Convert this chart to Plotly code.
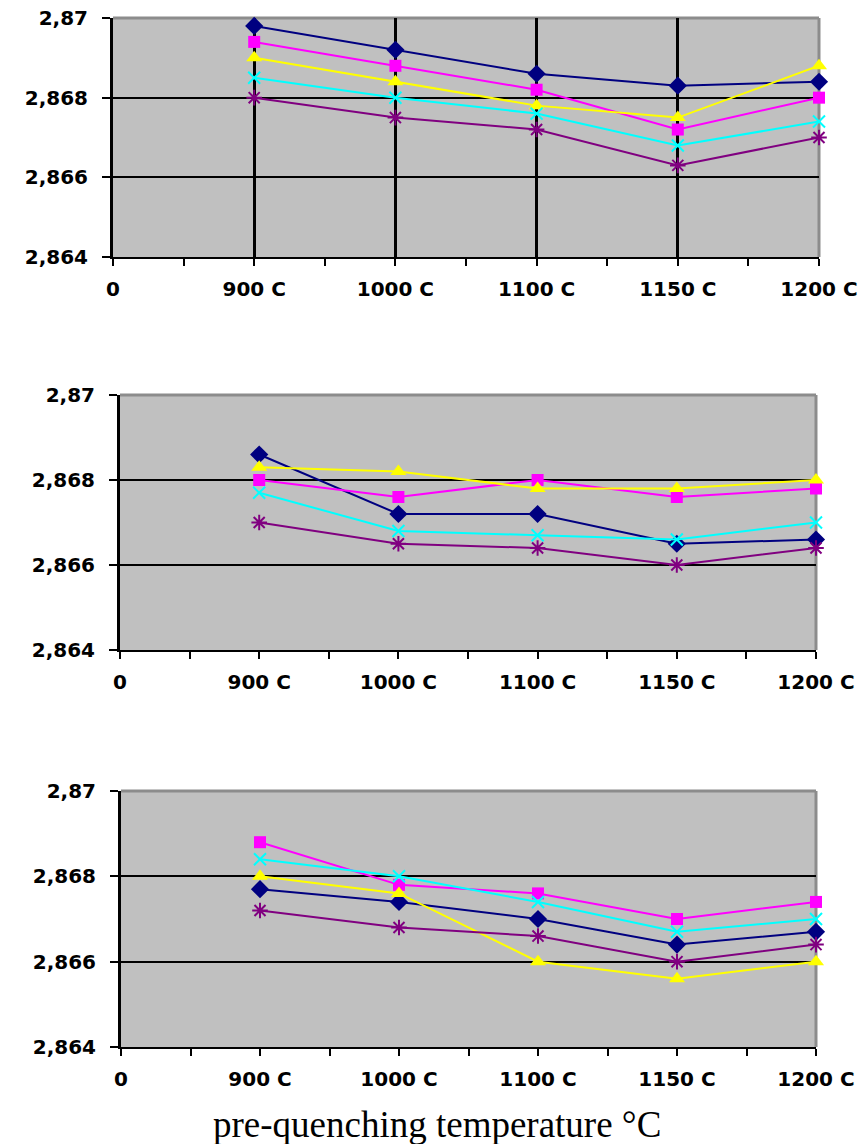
import plotly.graph_objects as go

# ---------------- data ----------------
categories = ["0", "900 C", "1000 C", "1100 C", "1150 C", "1200 C"]
y_tickvals = [2.864, 2.866, 2.868, 2.870]
y_ticktext = ["2,864", "2,866", "2,868", "2,87"]
x_label = "pre-quenching temperature °C"

series_names = ["series 1", "series 2", "series 3", "series 4", "series 5"]

# panel 1 (top)
p1_navy = [2.8698, 2.8692, 2.8686, 2.8683, 2.8684]
p1_magenta = [2.8694, 2.8688, 2.8682, 2.8672, 2.8680]
p1_yellow = [2.8690, 2.8684, 2.8678, 2.8675, 2.8688]
p1_cyan = [2.8685, 2.8680, 2.8676, 2.8668, 2.8674]
p1_purple = [2.8680, 2.8675, 2.8672, 2.8663, 2.8670]

# panel 2 (middle)
p2_navy = [2.8686, 2.8672, 2.8672, 2.8665, 2.8666]
p2_magenta = [2.8680, 2.8676, 2.8680, 2.8676, 2.8678]
p2_yellow = [2.8683, 2.8682, 2.8678, 2.8678, 2.8680]
p2_cyan = [2.8677, 2.8668, 2.8667, 2.8666, 2.8670]
p2_purple = [2.8670, 2.8665, 2.8664, 2.8660, 2.8664]

# panel 3 (bottom)
p3_navy = [2.8677, 2.8674, 2.8670, 2.8664, 2.8667]
p3_magenta = [2.8688, 2.8678, 2.8676, 2.8670, 2.8674]
p3_yellow = [2.8680, 2.8676, 2.8660, 2.8656, 2.8660]
p3_cyan = [2.8684, 2.8680, 2.8674, 2.8667, 2.8670]
p3_purple = [2.8672, 2.8668, 2.8666, 2.8660, 2.8664]

panels = [
    [p1_navy, p1_magenta, p1_yellow, p1_cyan, p1_purple],
    [p2_navy, p2_magenta, p2_yellow, p2_cyan, p2_purple],
    [p3_navy, p3_magenta, p3_yellow, p3_cyan, p3_purple],
]

# ---------------- styles ----------------
W, H = 867, 1144
colors = ["#000080", "#FF00FF", "#FFFF00", "#00FFFF", "#800080"]
symbols = ["diamond", "square", "triangle-up", "x-thin-open", "asterisk-open"]
sizes = [14, 12, 14, 12, 13]

# pixel boxes of each plot area: (left, right, top, bottom)
boxes = [(113, 819, 18, 257), (120, 816, 395, 650), (121, 816, 791, 1047)]
vgrid = [True, False, False]


def px_x(p):
    return p / W


def px_y(p):
    return 1 - p / H


x_pos = list(range(len(categories)))
data_x = x_pos[1:]

fig = go.Figure()
tick_font = dict(family="DejaVu Sans", size=20, color="black", weight="bold")

for i, (series_list, box) in enumerate(zip(panels, boxes)):
    sfx = "" if i == 0 else str(i + 1)
    xa, ya = "x" + sfx, "y" + sfx
    for j, vals in enumerate(series_list):
        open_sym = symbols[j].endswith("open")
        marker = dict(symbol=symbols[j], size=sizes[j], color=colors[j],
                      line=dict(color=colors[j], width=2 if open_sym else 0))
        fig.add_trace(go.Scatter(
            x=data_x, y=vals, mode="lines+markers", name=series_names[j],
            line=dict(color=colors[j], width=2), marker=marker,
            xaxis=xa, yaxis=ya, showlegend=False, cliponaxis=False))
    l, r, t, b = box
    fig.layout["xaxis" + sfx] = dict(
        domain=[px_x(l), px_x(r)], anchor=ya, range=[0, len(categories) - 1],
        tickvals=x_pos, ticktext=categories, tickfont=tick_font,
        showline=True, linecolor="black", linewidth=2,
        ticks="outside", ticklen=7, tickwidth=2, tickcolor="black",
        ticklabelstandoff=6, automargin=False,
        minor=dict(tick0=0, dtick=0.5, ticks="outside", ticklen=7,
                   tickwidth=2, tickcolor="black", showgrid=False),
        showgrid=vgrid[i], gridcolor="black", gridwidth=3,
        zeroline=False, fixedrange=True)
    fig.layout["yaxis" + sfx] = dict(
        domain=[px_y(b), px_y(t)], anchor=xa, range=[2.864, 2.870],
        tickvals=y_tickvals, ticktext=y_ticktext, tickfont=tick_font,
        showline=True, linecolor="black", linewidth=3,
        ticks="outside", ticklen=8, tickwidth=2, tickcolor="black",
        ticklabelstandoff=10, automargin=False,
        showgrid=True, gridcolor="black", gridwidth=2,
        zeroline=False, fixedrange=True)
    # grey plot-area frame on top and right
    for (x0, y0, x1, y1) in [(0, 1, 1, 1), (1, 0, 1, 1)]:
        fig.add_shape(type="line", xref=xa + " domain", yref=ya + " domain",
                      x0=x0, y0=y0, x1=x1, y1=y1,
                      line=dict(color="#8C8C8C", width=3), layer="below")

fig.add_annotation(text=x_label, xref="paper", yref="paper",
                   x=px_x(437), y=px_y(1124), xanchor="center", yanchor="middle",
                   showarrow=False,
                   font=dict(family="Liberation Serif", size=37, color="black"))

fig.update_layout(width=W, height=H,
                  margin=dict(l=0, r=0, t=0, b=0, pad=0, autoexpand=False),
                  plot_bgcolor="#C0C0C0", paper_bgcolor="white",
                  showlegend=False)

fig.write_html(
    "out.html",
    config={"displayModeBar": False},
    post_script="document.body.style.margin='0';document.body.style.overflow='hidden';",
)
